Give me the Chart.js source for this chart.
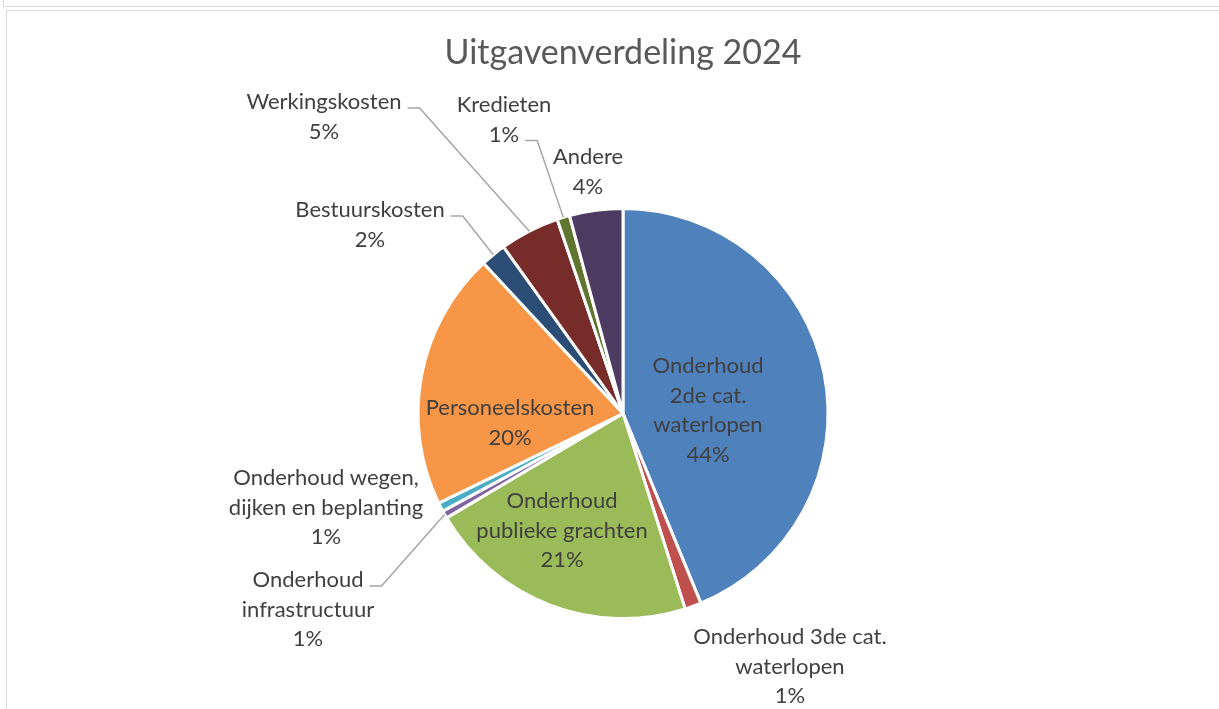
<!DOCTYPE html>
<html>
<head>
<meta charset="utf-8">
<title>Uitgavenverdeling 2024</title>
<script src="https://cdn.jsdelivr.net/npm/chart.js@4.4.1/dist/chart.umd.min.js"></script>
<style>
  html, body { margin: 0; padding: 0; background: #fff; }
  #wrap { position: relative; width: 1219px; height: 709px; overflow: hidden; }
  #chart { position: absolute; left: 0; top: 0; }
  .frame { position: absolute; background: #d9d9d9; }
</style>
</head>
<body>
<div id="wrap">
  <div class="frame" style="left:3px;top:0;width:1px;height:6px"></div>
  <div class="frame" style="left:3px;top:6px;width:1216px;height:1px"></div>
  <div class="frame" style="left:6px;top:10px;width:1213px;height:1px"></div>
  <div class="frame" style="left:6px;top:10px;width:1px;height:699px"></div>
  <canvas id="chart" width="1219" height="709"></canvas>
</div>
<script>
// Categories (line breaks as in the original labels)
const categories = [
    ['Onderhoud', '2de cat.', 'waterlopen'],
    ['Onderhoud 3de cat.', 'waterlopen'],
    ['Onderhoud', 'publieke grachten'],
    ['Onderhoud', 'infrastructuur'],
    ['Onderhoud wegen,', 'dijken en beplanting'],
    ['Personeelskosten'],
    ['Bestuurskosten'],
    ['Werkingskosten'],
    ['Kredieten'],
    ['Andere']
];

// Share of total spending (%)
const values = [43.8, 1.3, 21.4, 0.6, 0.7, 20.3, 2.0, 4.7, 1.0, 4.2];

const sliceColors = [
    '#4F81BD', '#C0504D', '#9BBB59', '#8064A2', '#4BACC6',
    '#F79646', '#2C4D75', '#772C2A', '#5F7530', '#4D3B62'
];

// Label placement relative to pie centre (first line), leader = row the leader line starts from
const labelPos = [
    { dx: 85, dy: -47.5, leader: null },
    { dx: 167, dy: 223.5, leader: null },
    { dx: -61, dy: 87.5, leader: null },
    { dx: -315, dy: 166.5, leader: 0 },
    { dx: -297, dy: 64.5, leader: null },
    { dx: -113, dy: -5.5, leader: null },
    { dx: -253, dy: -203.5, leader: 0 },
    { dx: -299, dy: -311.5, leader: 0 },
    { dx: -119, dy: -308.5, leader: 1 },
    { dx: -35, dy: -256.5, leader: null }
];

const lineGap = 29.5;

// Draw data labels with leader lines
const sliceLabels = {
    id: 'sliceLabels',
    afterDatasetsDraw(chart) {
        const ctx = chart.ctx;
        const arcs = chart.getDatasetMeta(0).data;
        const total = values.reduce((a, b) => a + b, 0);
        ctx.save();
        ctx.font = '22px Lato';
        ctx.fillStyle = '#404040';
        ctx.textAlign = 'center';
        ctx.textBaseline = 'middle';
        arcs.forEach((arc, i) => {
            const p = arc.getProps(['x', 'y', 'startAngle', 'endAngle', 'outerRadius'], true);
            const pos = labelPos[i];
            const lines = categories[i].concat([Math.round(values[i] / total * 100) + '%']);
            const cx = p.x + pos.dx;
            const top = p.y + pos.dy;
            lines.forEach((line, j) => ctx.fillText(line, cx, top + j * lineGap));

            if (pos.leader !== null) {
                const w = ctx.measureText(lines[pos.leader]).width;
                const sx = cx + w / 2 + 6;
                const sy = top + pos.leader * lineGap + 6;
                const mid = (p.startAngle + p.endAngle) / 2;
                const ex = p.x + Math.cos(mid) * p.outerRadius;
                const ey = p.y + Math.sin(mid) * p.outerRadius;
                ctx.strokeStyle = '#a6a6a6';
                ctx.lineWidth = 1.5;
                ctx.beginPath();
                ctx.moveTo(sx, sy);
                ctx.lineTo(sx + 12, sy);
                ctx.lineTo(ex, ey);
                ctx.stroke();
            }
        });
        ctx.restore();
    }
};

const ctx = document.getElementById('chart').getContext('2d');
new Chart(ctx, {
    type: 'pie',
    data: {
        labels: categories,
        datasets: [{
            data: values,
            backgroundColor: sliceColors,
            borderColor: '#ffffff',
            borderWidth: 3,
            hoverOffset: 0
        }]
    },
    options: {
        responsive: false,
        animation: false,
        layout: {
            padding: { left: 416, right: 389, top: 0, bottom: 89 }
        },
        plugins: {
            legend: { display: false },
            tooltip: { enabled: false },
            title: {
                display: true,
                text: 'Uitgavenverdeling 2024',
                color: '#595959',
                font: { family: 'Lato', size: 34, weight: 'normal' },
                padding: { top: 32.6, bottom: 133.6 }
            }
        }
    },
    plugins: [sliceLabels]
});
</script>
</body>
</html>
